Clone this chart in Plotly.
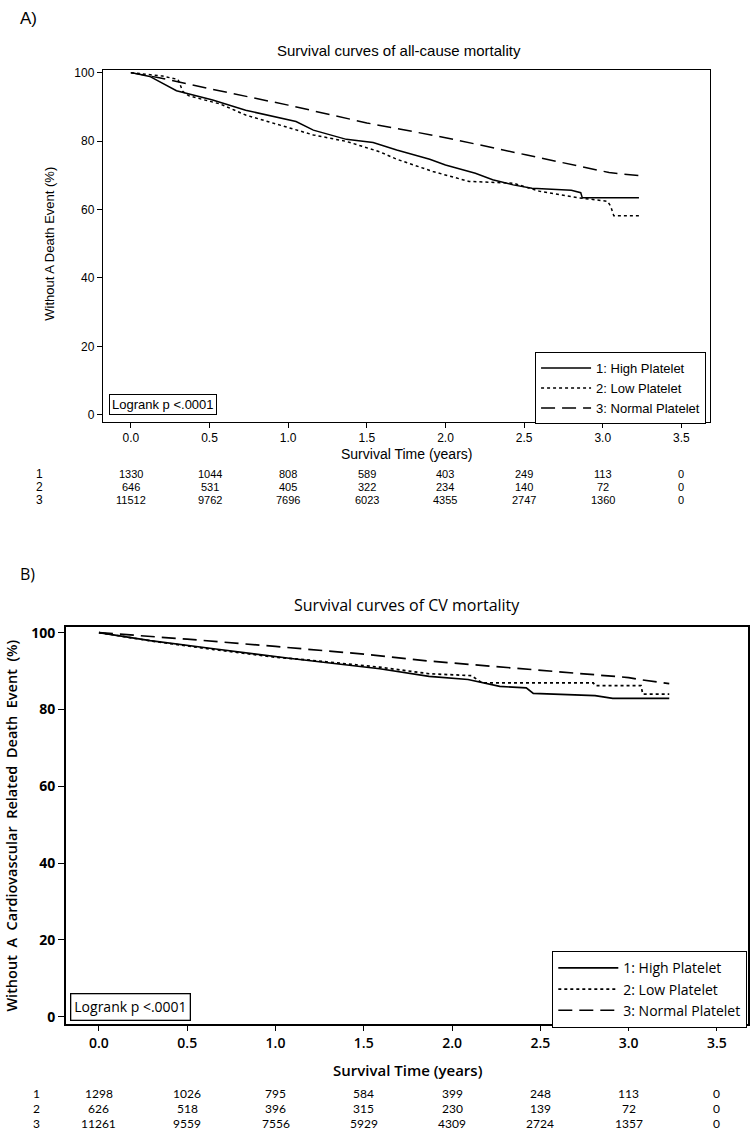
import plotly.graph_objects as go

# ---------------- data ----------------
time_ticks = [0.0, 0.5, 1.0, 1.5, 2.0, 2.5, 3.0, 3.5]
tick_text = ["0.0", "0.5", "1.0", "1.5", "2.0", "2.5", "3.0", "3.5"]
y_ticks = [0, 20, 40, 60, 80, 100]
group_ids = ["1", "2", "3"]
group_names = ["1: High Platelet", "2: Low Platelet", "3: Normal Platelet"]

# Panel A: all-cause mortality (survival %)
a_high_t = [0, 0.12, 0.29, 0.52, 0.73, 0.86, 1.05, 1.16, 1.37, 1.54, 1.69, 1.90, 2.0, 2.19, 2.30, 2.43, 2.55, 2.80, 2.86, 2.87, 3.23]
a_high_s = [100, 98.9, 94.7, 92.0, 89.0, 87.6, 85.7, 83.2, 80.5, 79.6, 77.4, 74.7, 73.0, 70.6, 68.7, 67.2, 66.2, 65.6, 64.9, 63.4, 63.4]
a_low_t = [0, 0.20, 0.30, 0.33, 0.37, 0.57, 0.73, 0.95, 1.16, 1.37, 1.58, 1.69, 1.92, 2.15, 2.43, 2.60, 2.85, 3.03, 3.05, 3.07, 3.23]
a_low_s = [100, 99.0, 98.0, 94.5, 93.2, 90.8, 87.6, 84.7, 81.8, 79.9, 76.9, 74.7, 71.1, 68.2, 67.7, 65.3, 63.4, 62.4, 61.0, 58.2, 58.2]
a_norm_t = [0, 0.18, 0.5, 1.0, 1.5, 1.9, 2.0, 2.51, 3.04, 3.23]
a_norm_s = [100, 98.5, 95.3, 90.5, 85.3, 82.0, 81.0, 76.0, 70.8, 69.9]

a_risk_1 = [1330, 1044, 808, 589, 403, 249, 113, 0]
a_risk_2 = [646, 531, 405, 322, 234, 140, 72, 0]
a_risk_3 = [11512, 9762, 7696, 6023, 4355, 2747, 1360, 0]

# Panel B: CV mortality (survival %)
b_high_t = [0, 0.29, 0.65, 1.10, 1.59, 1.87, 2.09, 2.27, 2.42, 2.46, 2.81, 2.91, 3.23]
b_high_s = [100, 97.9, 95.8, 93.2, 90.6, 88.6, 87.8, 86.0, 85.6, 84.2, 83.6, 82.9, 82.9]
b_low_t = [0, 0.30, 0.65, 1.0, 1.2, 1.59, 1.87, 2.11, 2.17, 2.80, 2.81, 3.07, 3.08, 3.23]
b_low_s = [100, 97.8, 95.6, 93.6, 92.8, 91.0, 89.3, 88.8, 86.9, 86.9, 86.2, 86.2, 84.0, 84.0]
b_norm_t = [0, 0.33, 0.5, 1.0, 1.5, 1.87, 2.0, 2.5, 3.0, 3.06, 3.23]
b_norm_s = [100, 99.0, 98.3, 96.4, 94.4, 92.6, 92.1, 90.2, 88.3, 87.8, 86.7]

b_risk_1 = [1298, 1026, 795, 584, 399, 248, 113, 0]
b_risk_2 = [626, 518, 396, 315, 230, 139, 72, 0]
b_risk_3 = [11261, 9559, 7556, 5929, 4309, 2724, 1357, 0]

# ---------------- styling ----------------
W, H = 750, 1133
FA = "Liberation Sans, Arial, sans-serif"
FB = "Open Sans, Noto Sans, sans-serif"
FT = "Lato, Liberation Sans, sans-serif"
dashes = ["solid", "3px,3px", "14px,7px"]


def px(x):
    return x / W


def py(y):
    return 1 - y / H


fig = go.Figure()

series_a = [(a_high_t, a_high_s), (a_low_t, a_low_s), (a_norm_t, a_norm_s)]
series_b = [(b_high_t, b_high_s), (b_low_t, b_low_s), (b_norm_t, b_norm_s)]

for i, (t, s) in enumerate(series_a):
    fig.add_trace(go.Scatter(x=t, y=s, mode="lines", name=group_names[i],
                             line=dict(color="black", width=1.5, dash=dashes[i]),
                             xaxis="x", yaxis="y", legend="legend"))
for i, (t, s) in enumerate(series_b):
    fig.add_trace(go.Scatter(x=t, y=s, mode="lines", name=group_names[i],
                             line=dict(color="black", width=1.7, dash=dashes[i]),
                             xaxis="x2", yaxis="y2", legend="legend2"))

axis_common = dict(showline=True, linecolor="black", mirror=True, ticks="outside",
                   tickcolor="black", showgrid=False, zeroline=False)

fig.update_layout(
    width=W, height=H, margin=dict(l=0, r=0, t=0, b=0),
    paper_bgcolor="white", plot_bgcolor="white",
    xaxis=dict(domain=[px(103), px(711)], range=[-0.178, 3.682], anchor="y",
               tickvals=time_ticks, ticktext=tick_text, ticklen=5, linewidth=1.3,
               tickfont=dict(family=FA, size=12, color="black"), **axis_common),
    yaxis=dict(domain=[py(420), py(66)], range=[-2.03, 100.87], anchor="x",
               tickvals=y_ticks, ticklen=5, linewidth=1.3,
               tickfont=dict(family=FA, size=12, color="black"), **axis_common),
    xaxis2=dict(domain=[px(66), px(749)], range=[-0.187, 3.676], anchor="y2",
                tickvals=time_ticks, ticktext=tick_text, ticklen=6, linewidth=1.8,
                tickfont=dict(family=FB, size=14, color="black", weight=600), **axis_common),
    yaxis2=dict(domain=[py(1025), py(626)], range=[-1.81, 101.55], anchor="x2",
                tickvals=y_ticks, ticklen=6, linewidth=1.8,
                tickfont=dict(family=FB, size=14, color="black", weight=700), **axis_common),
    legend=dict(x=px(707), xanchor="right", y=py(350), yanchor="top", itemwidth=50,
                bordercolor="black", borderwidth=1, bgcolor="white",
                font=dict(family=FA, size=13, color="black"), tracegroupgap=0),
    legend2=dict(x=px(748), xanchor="right", y=py(952), yanchor="top", itemwidth=60,
                 bordercolor="black", borderwidth=1.3, bgcolor="white",
                 font=dict(family=FB, size=14, color="black"), tracegroupgap=0),
    showlegend=True,
)


def note(text, x, y, xref="paper", font=None, xanchor="center", **kw):
    return dict(text=text, x=x, y=y, xref=xref, yref="paper", xanchor=xanchor,
                yanchor="middle", showarrow=False, font=font, **kw)


ann = []
ann.append(note("A)", px(18), py(15), font=dict(family=FA, size=17, color="black"), xanchor="left"))
ann.append(note("B)", px(18), py(573), font=dict(family=FB, size=16, color="black"), xanchor="left"))
ann.append(note("Survival curves of all-cause mortality", px(400), py(47),
                font=dict(family=FA, size=15, color="black")))
ann.append(note("Survival curves of CV mortality", px(408), py(604),
                font=dict(family=FB, size=16, color="black")))
ann.append(note("Survival Time (years)", 1.75, py(452), xref="x",
                font=dict(family=FA, size=14, color="black")))
ann.append(note("Survival Time (years)", 1.75, py(1072), xref="x2",
                font=dict(family=FB, size=15, color="black", weight=600)))
ann.append(note("Without A Death Event (%)", px(50), py(241), textangle=-90,
                font=dict(family=FA, size=13, color="black")))
ann.append(note("Without  A  Cardiovascular  Related  Death  Event  (%)", px(12), py(826), textangle=-90,
                font=dict(family=FB, size=14.5, color="black", weight=600)))
ann.append(note("Logrank p <.0001", px(109), py(402.5), xanchor="left", bordercolor="black",
                borderwidth=1, borderpad=2, bgcolor="white",
                font=dict(family=FA, size=13, color="black")))
ann.append(note("Logrank p <.0001", px(70), py(1008.5), xanchor="left", bordercolor="black",
                borderwidth=1.3, borderpad=3, bgcolor="white",
                font=dict(family=FB, size=14, color="black")))

a_rows = [a_risk_1, a_risk_2, a_risk_3]
b_rows = [b_risk_1, b_risk_2, b_risk_3]
a_row_y = [473, 486, 499]
b_row_y = [1095, 1110, 1125]
for r in range(3):
    ann.append(note(group_ids[r], px(40), py(a_row_y[r]), font=dict(family=FA, size=12, color="black")))
    ann.append(note(group_ids[r], px(37), py(b_row_y[r]), font=dict(family=FT, size=12, color="black")))
    for k, t in enumerate(time_ticks):
        ann.append(note(str(a_rows[r][k]), t, py(a_row_y[r]), xref="x",
                        font=dict(family=FA, size=11, color="black")))
        ann.append(note(str(b_rows[r][k]), t, py(b_row_y[r]), xref="x2",
                        font=dict(family=FT, size=12, color="black")))

fig.update_layout(annotations=ann)
fig.write_html("out.html", config={"displayModeBar": False},
               post_script="document.body.style.margin='0';document.body.style.overflow='hidden';")
